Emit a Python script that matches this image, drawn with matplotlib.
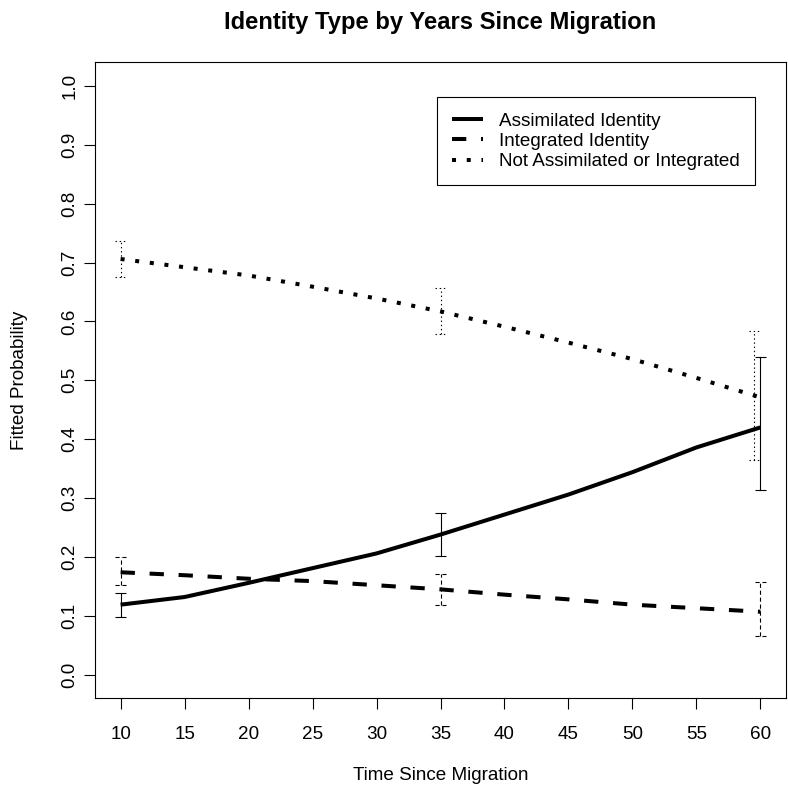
import matplotlib
matplotlib.use("Agg")
import matplotlib.pyplot as plt
from matplotlib.font_manager import FontProperties, findfont

plt.rcParams['font.family'] = ['Liberation Sans', 'DejaVu Sans']
plt.rcParams['lines.scale_dashes'] = False

# ---- data ----
years = [10, 15, 20, 25, 30, 35, 40, 45, 50, 55, 60]
assimilated = [0.119, 0.132, 0.156, 0.181, 0.206, 0.238, 0.272, 0.306, 0.344, 0.386, 0.420]
integrated = [0.174, 0.169, 0.163, 0.159, 0.152, 0.145, 0.136, 0.128, 0.119, 0.113, 0.107]
not_ai = [0.706, 0.692, 0.678, 0.659, 0.639, 0.617, 0.591, 0.564, 0.536, 0.504, 0.471]

err_x_assim = [10, 35, 60]
err_lo_assim = [0.098, 0.202, 0.314]
err_hi_assim = [0.138, 0.274, 0.540]

err_x_integ = [10, 35, 60]
err_lo_integ = [0.153, 0.119, 0.066]
err_hi_integ = [0.200, 0.171, 0.158]

err_x_not = [10, 35, 59.5]
err_lo_not = [0.675, 0.578, 0.365]
err_hi_not = [0.737, 0.657, 0.583]

labels = ["Assimilated Identity", "Integrated Identity", "Not Assimilated or Integrated"]
xticks = [10, 15, 20, 25, 30, 35, 40, 45, 50, 55, 60]
yticks = [0.0, 0.1, 0.2, 0.3, 0.4, 0.5, 0.6, 0.7, 0.8, 0.9, 1.0]

title = "Identity Type by Years Since Migration"
xlabel = "Time Since Migration"
ylabel = "Fitted Probability"

# ---- figure ----
W, H = 788, 790
fig = plt.figure(figsize=(W / 100, H / 100), dpi=100)
L, R, T, B = 95, 786, 62.3, 698.3
ax = fig.add_axes([L / W, 1 - B / H, (R - L) / W, (B - T) / H])

FS = 13.6
lw_main = 2.9
dash_main = (0, (10.3, 10.6))
dot_main = (0, (2.9, 7.7))

l1, = ax.plot(years, assimilated, color='black', lw=lw_main, ls='-', solid_capstyle='butt')
l2, = ax.plot(years, integrated, color='black', lw=lw_main, ls=dash_main, dash_capstyle='butt')
l3, = ax.plot(years, not_ai, color='black', lw=lw_main, ls=dot_main, dash_capstyle='butt')

cap = 0.43
def ebars(xs, lo, hi, ls):
    ax.vlines(xs, lo, hi, colors='black', lw=0.8, linestyles=[ls])
    ax.hlines(lo, [x - cap for x in xs], [x + cap for x in xs], colors='black', lw=0.8, linestyles=[ls])
    ax.hlines(hi, [x - cap for x in xs], [x + cap for x in xs], colors='black', lw=0.8, linestyles=[ls])

ebars(err_x_assim, err_lo_assim, err_hi_assim, '-')
ebars(err_x_integ, err_lo_integ, err_hi_integ, (0, (3, 2)))
ebars(err_x_not, err_lo_not, err_hi_not, (0, (1, 2)))

ax.set_xlim(8, 62)
ax.set_ylim(-0.04, 1.04)
ax.set_xticks(xticks)
ax.set_xticklabels([str(v) for v in xticks], fontsize=FS)
ax.set_yticks(yticks)
ax.set_yticklabels([f"{v:.1f}" for v in yticks], fontsize=FS, rotation=90, va='center')

for s in ax.spines.values():
    s.set_linewidth(0.8)
ax.tick_params(axis='both', direction='out', length=7.9, width=0.8, color='black')
ax.tick_params(axis='x', pad=12)
ax.tick_params(axis='y', pad=4)

ax.set_xlabel(xlabel, fontsize=FS)
ax.xaxis.set_label_coords(0.5, (B - 776) / (B - T))
ax.xaxis.label.set_va('center')
ax.set_ylabel(ylabel, fontsize=FS)
ax.yaxis.set_label_coords((20 - L) / (R - L), 0.5)
ax.yaxis.label.set_va('center')
ax.yaxis.label.set_ha('center')

# bold title: pick a regular-width bold sans
title_fam = 'Roboto'
for fam in ['Liberation Sans', 'Roboto', 'Inter', 'DejaVu Sans']:
    p = findfont(FontProperties(family=fam, weight='bold'), fallback_to_default=False) if True else None
    if 'Narrow' not in p and 'Regular' not in p and ('Bold' in p or 'bold' in p.lower()):
        title_fam = fam
        break
tsize = 17.0
ttl = fig.text((L + R) / 2 / W, 1 - 22 / H, title, family=title_fam, fontweight='bold',
               fontsize=tsize, ha='center', va='center')
fig.canvas.draw()
wpx = ttl.get_window_extent().width
ttl.set_fontsize(tsize * 432.0 / wpx)

leg = ax.legend([l1, l2, l3], labels, loc='upper left',
                bbox_to_anchor=((436.7 - L) / (R - L), (B - 97.3) / (B - T)),
                borderaxespad=0, fontsize=FS, frameon=True, fancybox=False,
                edgecolor='black', framealpha=1, handlelength=1.66,
                handletextpad=0.85, labelspacing=0.16, borderpad=0.8)
leg.get_frame().set_linewidth(0.8)

fig.savefig("out.png", dpi=100)
